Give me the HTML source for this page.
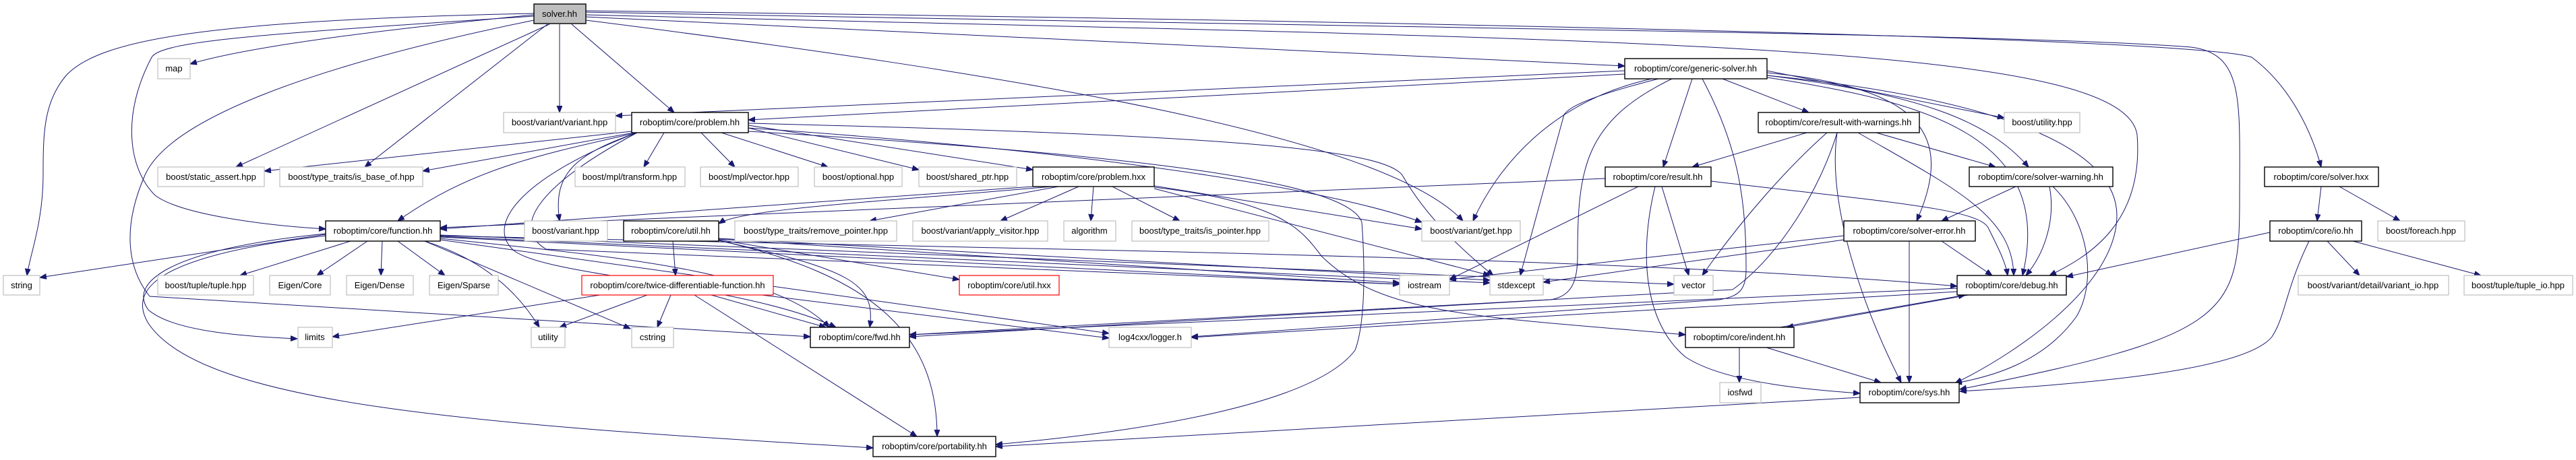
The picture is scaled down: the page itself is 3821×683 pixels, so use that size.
<!DOCTYPE html>
<html><head><meta charset="utf-8"><style>
html,body{margin:0;padding:0;background:#fff;}
svg{display:block;}
text{font-family:"Liberation Sans",Arial,sans-serif;font-size:13px;fill:#000;text-anchor:middle;}
.b{fill:#fff;stroke:#000;stroke-width:1.4;}
.g{fill:#fff;stroke:#bfbfbf;stroke-width:1.2;}
.r{fill:#fff;stroke:#ff0000;stroke-width:1.2;}
.e{fill:none;stroke:#191970;stroke-width:1;marker-end:url(#a);}
</style></head><body>
<svg width="3821" height="683" viewBox="0 0 3821 683" xmlns="http://www.w3.org/2000/svg">
<defs><marker id="a" markerUnits="userSpaceOnUse" markerWidth="11" markerHeight="9" refX="10" refY="4" orient="auto"><path d="M0,0 L10,4 L0,8 z" fill="#191970" stroke="#191970"/></marker></defs>
<g>
<!-- solver.hh -->
<path class="e" d="M792,22 Q400,60 282,95"/>
<path class="e" d="M792,20 C300,30 150,60 100,110 C64,150 64,200 64,260 C64,330 44,380 40,409"/>
<path class="e" d="M815,36 L350,248"/>
<path class="e" d="M812,36 L541,248"/>
<path class="e" d="M830,36 L830,167"/>
<path class="e" d="M848,36 L1000,167"/>
<path class="e" d="M792,24 C400,50 240,60 225,85 C180,170 190,250 230,290 C270,320 400,335 483,340"/>
<path class="e" d="M792,30 C450,100 250,180 215,260 C180,340 190,400 222,440 L1202,500"/>
<path class="e" d="M869,30 C1500,110 2050,200 2170,328"/>
<path class="e" d="M869,25 L2410,98"/>
<path class="e" d="M869,18 C2000,40 3000,50 3250,70 C3330,80 3322,150 3322,300 C3322,470 3300,500 2907,578"/>
<path class="e" d="M869,16 C2000,30 3250,55 3340,85 C3400,130 3430,200 3443,248"/>
<path class="e" d="M869,22 C2400,60 3150,60 3170,200 C3180,330 3100,380 3040,409"/>
<!-- generic-solver -->
<path class="e" d="M2410,105 L913,172"/>
<path class="e" d="M2410,110 L1110,178"/>
<path class="e" d="M2450,117 C2300,150 2220,250 2185,328"/>
<path class="e" d="M2460,117 C2330,150 2325,165 2320,170 L2255,409"/>
<path class="e" d="M2480,117 C2350,180 2340,250 2340,380 C2340,420 2330,440 2300,445 L1349,500"/>
<path class="e" d="M2510,117 L2467,248"/>
<path class="e" d="M2525,117 C2580,220 2590,300 2590,400 C2590,430 2580,440 2550,445 L1767,500"/>
<path class="e" d="M2555,117 L2683,167"/>
<path class="e" d="M2621,105 L2973,175"/>
<path class="e" d="M2621,108 C2850,130 2900,200 2843,328"/>
<path class="e" d="M2621,112 C2850,140 2950,180 3009,248"/>
<path class="e" d="M2621,115 C2850,150 3050,200 3000,409"/>
<path class="e" d="M2621,112 C3000,150 3140,230 3140,320 C3140,420 3000,520 2900,569"/>
<!-- problem.hh -->
<path class="e" d="M937,195 L392,254"/>
<path class="e" d="M940,197 L627,254"/>
<path class="e" d="M945,197 C800,230 700,250 590,328"/>
<path class="e" d="M985,197 L955,248"/>
<path class="e" d="M1040,197 L1090,248"/>
<path class="e" d="M1070,197 L1228,248"/>
<path class="e" d="M1110,190 L1363,252"/>
<path class="e" d="M1110,186 L1532,252"/>
<path class="e" d="M945,197 C850,230 820,260 830,328"/>
<path class="e" d="M945,197 C780,260 720,330 760,370 C800,410 1100,420 1240,486"/>
<path class="e" d="M945,197 C790,280 760,340 810,370 L2076,422"/>
<path class="e" d="M1110,183 C1800,200 2050,220 2080,260 C2120,330 2180,380 2215,409"/>
<path class="e" d="M1110,190 C1700,230 2000,290 2109,330"/>
<path class="e" d="M1110,195 C1700,230 2000,270 2020,330 C2025,400 2025,480 2010,520 C1950,600 1700,640 1477,660"/>
<!-- problem.hxx -->
<path class="e" d="M1560,277 C1300,300 1100,310 1066,332"/>
<path class="e" d="M1570,277 L1290,328"/>
<path class="e" d="M1600,277 L1484,328"/>
<path class="e" d="M1622,277 L1618,328"/>
<path class="e" d="M1650,277 L1750,328"/>
<path class="e" d="M1532,277 L653,340"/>
<path class="e" d="M1712,276 L2109,340"/>
<path class="e" d="M1712,280 L2210,409"/>
<path class="e" d="M1712,278 C1900,300 1930,340 1960,380 C2050,470 2200,470 2500,497"/>
<!-- function.hh -->
<path class="e" d="M483,348 L59,412"/>
<path class="e" d="M520,358 L356,409"/>
<path class="e" d="M545,358 L470,409"/>
<path class="e" d="M567,358 L565,409"/>
<path class="e" d="M590,358 L660,409"/>
<path class="e" d="M483,347 C250,370 190,420 220,460 C260,495 380,500 441,503"/>
<path class="e" d="M483,350 C230,380 190,430 220,480 C300,600 700,630 1295,665"/>
<path class="e" d="M630,358 C700,380 760,420 800,486"/>
<path class="e" d="M630,358 L935,488"/>
<path class="e" d="M653,352 L2076,422"/>
<path class="e" d="M653,354 C900,380 1150,400 1230,486"/>
<path class="e" d="M653,356 L1645,495"/>
<path class="e" d="M653,350 C1500,370 2400,380 2903,425"/>
<path class="e" d="M653,349 L2483,422"/>
<path class="e" d="M653,351 L2210,420"/>
<!-- util.hh -->
<path class="e" d="M998,358 L1002,409"/>
<path class="e" d="M1066,356 L1423,415"/>
<path class="e" d="M1066,357 C1260,400 1300,420 1290,486"/>
<path class="e" d="M1066,357 C1300,410 1390,500 1390,648"/>
<path class="e" d="M1066,355 L2076,420"/>
<path class="e" d="M1066,354 L2210,416"/>
<!-- twice-diff -->
<path class="e" d="M890,438 L493,500"/>
<path class="e" d="M960,438 L830,486"/>
<path class="e" d="M995,438 L975,486"/>
<path class="e" d="M1055,438 L1225,486"/>
<path class="e" d="M1030,438 L1360,648"/>
<path class="e" d="M1130,438 L1645,502"/>
<!-- result-with-warnings -->
<path class="e" d="M2680,197 L2510,248"/>
<path class="e" d="M2710,197 C2650,250 2580,330 2525,409"/>
<path class="e" d="M2725,197 C2700,280 2640,380 2570,430 L1349,497"/>
<path class="e" d="M2725,197 C2710,300 2760,450 2820,568"/>
<path class="e" d="M2783,197 L2960,248"/>
<path class="e" d="M2756,197 C2900,280 2985,320 2987,409"/>
<!-- result.hh -->
<path class="e" d="M2381,265 L653,338"/>
<path class="e" d="M2430,277 L2150,415"/>
<path class="e" d="M2465,277 L2505,409"/>
<path class="e" d="M2455,277 C2430,380 2440,480 2500,530 C2560,570 2700,580 2759,584"/>
<path class="e" d="M2538,269 C2800,300 2940,310 2950,340 C2965,370 2975,390 2978,409"/>
<!-- solver-warning -->
<path class="e" d="M2990,277 L2880,328"/>
<path class="e" d="M3040,277 C3050,330 3030,380 3005,409"/>
<path class="e" d="M3045,277 C3100,330 3110,420 3080,470 C3030,540 2950,560 2900,569"/>
<!-- solver-error -->
<path class="e" d="M2735,350 L2150,415"/>
<path class="e" d="M2735,356 L2289,419"/>
<path class="e" d="M2832,358 L2832,568"/>
<path class="e" d="M2880,358 L2955,409"/>
<!-- debug / indent / sys -->
<path class="e" d="M2920,438 L2650,486"/>
<path class="e" d="M2640,486 L2915,438"/>
<path class="e" d="M2903,428 L1349,497"/>
<path class="e" d="M2903,433 L1767,501"/>
<path class="e" d="M2580,516 L2580,568"/>
<path class="e" d="M2620,516 L2790,568"/>
<path class="e" d="M2759,590 L1477,663"/>
<!-- io / solver.hxx -->
<path class="e" d="M3367,345 L3065,411"/>
<path class="e" d="M3452,358 L3500,409"/>
<path class="e" d="M3490,358 L3680,409"/>
<path class="e" d="M3425,358 C3390,430 3390,470 3370,500 C3330,550 3100,570 2907,581"/>
<path class="e" d="M3443,277 L3437,328"/>
<path class="e" d="M3470,277 L3560,328"/>
</g>
<g>
<rect x="792" y="6" width="77" height="29" fill="#bfbfbf" stroke="#000" stroke-width="1.4"/><text x="830" y="25">solver.hh</text>
<rect class="g" x="234" y="87" width="48" height="30"/><text x="258" y="106">map</text>
<rect class="b" x="2410" y="87" width="211" height="30"/><text x="2515" y="106">roboptim/core/generic-solver.hh</text>
<rect class="g" x="747" y="167" width="166" height="30"/><text x="830" y="186">boost/variant/variant.hpp</text>
<rect class="b" x="937" y="167" width="173" height="30"/><text x="1023" y="186">roboptim/core/problem.hh</text>
<rect class="b" x="2608" y="167" width="239" height="30"/><text x="2727" y="186">roboptim/core/result-with-warnings.hh</text>
<rect class="g" x="2973" y="167" width="112" height="30"/><text x="3029" y="186">boost/utility.hpp</text>
<rect class="g" x="234" y="248" width="158" height="29"/><text x="313" y="267">boost/static_assert.hpp</text>
<rect class="g" x="415" y="248" width="212" height="29"/><text x="521" y="267">boost/type_traits/is_base_of.hpp</text>
<rect class="g" x="853" y="248" width="163" height="29"/><text x="934" y="267">boost/mpl/transform.hpp</text>
<rect class="g" x="1039" y="248" width="145" height="29"/><text x="1111" y="267">boost/mpl/vector.hpp</text>
<rect class="g" x="1208" y="248" width="130" height="29"/><text x="1273" y="267">boost/optional.hpp</text>
<rect class="g" x="1363" y="248" width="145" height="29"/><text x="1435" y="267">boost/shared_ptr.hpp</text>
<rect class="b" x="1532" y="248" width="180" height="29"/><text x="1622" y="267">roboptim/core/problem.hxx</text>
<rect class="b" x="2381" y="248" width="157" height="29"/><text x="2459" y="267">roboptim/core/result.hh</text>
<rect class="b" x="2921" y="248" width="213" height="29"/><text x="3027" y="267">roboptim/core/solver-warning.hh</text>
<rect class="b" x="3359" y="248" width="169" height="29"/><text x="3443" y="267">roboptim/core/solver.hxx</text>
<rect class="b" x="483" y="328" width="170" height="30"/><text x="568" y="347">roboptim/core/function.hh</text>
<rect class="g" x="778" y="328" width="123" height="30"/><text x="839" y="347">boost/variant.hpp</text>
<rect class="b" x="925" y="328" width="141" height="30"/><text x="995" y="347">roboptim/core/util.hh</text>
<rect class="g" x="1090" y="328" width="240" height="30"/><text x="1210" y="347">boost/type_traits/remove_pointer.hpp</text>
<rect class="g" x="1354" y="328" width="200" height="30"/><text x="1454" y="347">boost/variant/apply_visitor.hpp</text>
<rect class="g" x="1578" y="328" width="77" height="30"/><text x="1616" y="347">algorithm</text>
<rect class="g" x="1679" y="328" width="203" height="30"/><text x="1780" y="347">boost/type_traits/is_pointer.hpp</text>
<rect class="g" x="2109" y="328" width="146" height="30"/><text x="2182" y="347">boost/variant/get.hpp</text>
<rect class="b" x="2735" y="328" width="195" height="30"/><text x="2832" y="347">roboptim/core/solver-error.hh</text>
<rect class="b" x="3367" y="328" width="136" height="30"/><text x="3435" y="347">roboptim/core/io.hh</text>
<rect class="g" x="3527" y="328" width="129" height="30"/><text x="3591" y="347">boost/foreach.hpp</text>
<rect class="g" x="5" y="409" width="54" height="29"/><text x="32" y="428">string</text>
<rect class="g" x="234" y="409" width="142" height="29"/><text x="305" y="428">boost/tuple/tuple.hpp</text>
<rect class="g" x="400" y="409" width="90" height="29"/><text x="445" y="428">Eigen/Core</text>
<rect class="g" x="514" y="409" width="99" height="29"/><text x="563" y="428">Eigen/Dense</text>
<rect class="g" x="637" y="409" width="102" height="29"/><text x="688" y="428">Eigen/Sparse</text>
<rect class="r" x="863" y="409" width="284" height="29"/><text x="1005" y="428">roboptim/core/twice-differentiable-function.hh</text>
<rect class="r" x="1423" y="409" width="148" height="29"/><text x="1497" y="428">roboptim/core/util.hxx</text>
<rect class="g" x="2076" y="409" width="74" height="29"/><text x="2113" y="428">iostream</text>
<rect class="g" x="2210" y="409" width="79" height="29"/><text x="2249" y="428">stdexcept</text>
<rect class="g" x="2483" y="409" width="58" height="29"/><text x="2512" y="428">vector</text>
<rect class="b" x="2903" y="409" width="162" height="29"/><text x="2984" y="428">roboptim/core/debug.hh</text>
<rect class="g" x="3409" y="409" width="223" height="29"/><text x="3520" y="428">boost/variant/detail/variant_io.hpp</text>
<rect class="g" x="3655" y="409" width="161" height="29"/><text x="3735" y="428">boost/tuple/tuple_io.hpp</text>
<rect class="g" x="442" y="486" width="51" height="30"/><text x="467" y="505">limits</text>
<rect class="g" x="788" y="486" width="50" height="30"/><text x="813" y="505">utility</text>
<rect class="g" x="937" y="486" width="62" height="30"/><text x="968" y="505">cstring</text>
<rect class="b" x="1202" y="486" width="147" height="30"/><text x="1275" y="505">roboptim/core/fwd.hh</text>
<rect class="g" x="1645" y="486" width="122" height="30"/><text x="1706" y="505">log4cxx/logger.h</text>
<rect class="b" x="2500" y="486" width="161" height="30"/><text x="2580" y="505">roboptim/core/indent.hh</text>
<rect class="g" x="2551" y="568" width="61" height="30"/><text x="2581" y="587">iosfwd</text>
<rect class="b" x="2759" y="568" width="147" height="30"/><text x="2832" y="587">roboptim/core/sys.hh</text>
<rect class="b" x="1295" y="648" width="182" height="30"/><text x="1386" y="667">roboptim/core/portability.hh</text>
</g>
</svg>
</body></html>
